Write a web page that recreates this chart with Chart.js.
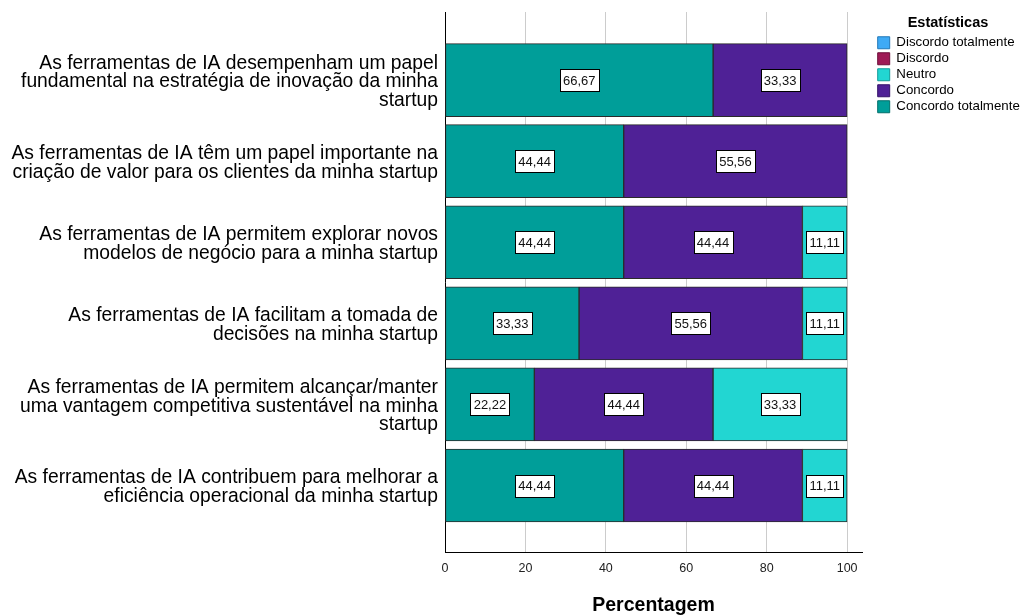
<!DOCTYPE html>
<html>
<head>
<meta charset="utf-8">
<script src="https://cdn.jsdelivr.net/npm/chart.js@4/dist/chart.umd.min.js"></script>
<style>
  html, body { margin: 0; padding: 0; background: #fff; }
  #wrap { width: 1021px; height: 615px; }
</style>
</head>
<body>
<div id="wrap"><canvas id="c" width="1021" height="615"></canvas></div>
<script>
// Survey statements (one bar each, top to bottom)
const statements = [
  ["As ferramentas de IA desempenham um papel", "fundamental na estratégia de inovação da minha", "startup"],
  ["As ferramentas de IA têm um papel importante na", "criação de valor para os clientes da minha startup"],
  ["As ferramentas de IA permitem explorar novos", "modelos de negócio para a minha startup"],
  ["As ferramentas de IA facilitam a tomada de", "decisões na minha startup"],
  ["As ferramentas de IA permitem alcançar/manter", "uma vantagem competitiva sustentável na minha", "startup"],
  ["As ferramentas de IA contribuem para melhorar a", "eficiência operacional da minha startup"]
];

// Percentage of answers per response level
const concordoTotalmente = [66.67, 44.44, 44.44, 33.33, 22.22, 44.44];
const concordo           = [33.33, 55.56, 44.44, 55.56, 44.44, 44.44];
const neutro             = [0, 0, 11.11, 11.11, 33.33, 11.11];
const discordo           = [0, 0, 0, 0, 0, 0];
const discordoTotalmente = [0, 0, 0, 0, 0, 0];

const xTicks = [0, 20, 40, 60, 80, 100];

const FONT = '"Liberation Sans", Arial, Helvetica, sans-serif';

// stacking order left to right: Concordo totalmente, Concordo, Neutro, Discordo, Discordo totalmente
const series = [
  { label: 'Concordo totalmente', values: concordoTotalmente, color: '#009e99', edge: '#006f6b' },
  { label: 'Concordo',            values: concordo,           color: '#4f2196', edge: '#36136b' },
  { label: 'Neutro',              values: neutro,             color: '#22d6d2', edge: '#139c99' },
  { label: 'Discordo',            values: discordo,           color: '#9e1a55', edge: '#6e0f3a' },
  { label: 'Discordo totalmente', values: discordoTotalmente, color: '#3eaaf5', edge: '#2278b8' }
];

const datasets = series.map(s => ({
  label: s.label,
  data: s.values.map((v, i) => ({ x: v > 0 ? v : null, y: i })),
  backgroundColor: s.color,
  borderColor: '#2a2a2a',
  borderWidth: 1,
  borderSkipped: false,
  barThickness: 73
}));

// White boxed value labels centred on each segment
const segmentLabels = {
  id: 'segmentLabels',
  afterDatasetsDraw(chart) {
    const ctx = chart.ctx;
    ctx.save();
    ctx.font = '13px ' + FONT;
    ctx.textAlign = 'center';
    ctx.textBaseline = 'middle';
    chart.data.datasets.forEach((ds, di) => {
      const meta = chart.getDatasetMeta(di);
      if (meta.hidden) return;
      meta.data.forEach((bar, i) => {
        const v = ds.data[i].x;
        if (v == null) return;
        const { x, base, y } = bar.getProps(['x', 'base', 'y'], true);
        const cx = (x + base) / 2;
        const txt = v.toFixed(2).replace('.', ',');
        const w = Math.round(ctx.measureText(txt).width + 6);
        const h = 22;
        const left = Math.round(cx - w / 2) + 0.5;
        const top = Math.round(y - h / 2) + 0.5;
        ctx.fillStyle = '#ffffff';
        ctx.fillRect(left, top, w, h);
        ctx.strokeStyle = '#000000';
        ctx.lineWidth = 1;
        ctx.strokeRect(left, top, w, h);
        ctx.fillStyle = '#111111';
        ctx.fillText(txt, cx, y + 1);
      });
    });
    ctx.restore();
  }
};

const noEdgePadding = s => { s.paddingTop = 0; s.paddingBottom = 0; };

new Chart(document.getElementById('c'), {
  type: 'bar',
  data: { datasets },
  plugins: [segmentLabels],
  options: {
    responsive: false,
    animation: false,
    indexAxis: 'y',
    layout: { padding: { top: 12, right: 0, bottom: 0, left: 0 } },
    scales: {
      x: {
        type: 'linear',
        stacked: true,
        min: 0,
        max: 103.7,
        afterBuildTicks: s => { s.ticks = xTicks.map(v => ({ value: v })); },
        afterFit: s => { s.height = 63; },
        ticks: { color: '#222', padding: 9, font: { family: FONT, size: 12.5 } },
        grid: { color: '#cccccc', lineWidth: 1, drawTicks: false },
        border: { display: true, color: '#000', width: 1 },
        title: {
          display: true,
          text: 'Percentagem',
          color: '#000',
          padding: { top: 0, bottom: -2 },
          font: { family: FONT, size: 19.5, weight: 'bold' }
        }
      },
      y: {
        type: 'linear',
        stacked: true,
        reverse: true,
        offset: false,
        min: -0.84,
        max: 5.82,
        afterBuildTicks: s => { s.ticks = statements.map((_, i) => ({ value: i })); },
        afterFit: s => { s.width = 445; noEdgePadding(s); },
        ticks: {
          color: '#000',
          padding: 7,
          labelOffset: 2,
          font: { family: FONT, size: 19.3, lineHeight: 0.97 },
          callback: v => statements[v]
        },
        grid: { display: false, drawTicks: false, offset: false },
        border: { display: true, color: '#000', width: 1 }
      },
      // thin spacer between the plot and the legend
      gap: {
        type: 'linear',
        position: 'right',
        display: true,
        afterFit: s => { s.width = 13; noEdgePadding(s); },
        ticks: { display: false },
        grid: { display: false, drawTicks: false },
        border: { display: false }
      }
    },
    plugins: {
      tooltip: { enabled: false },
      legend: {
        position: 'right',
        align: 'start',
        reverse: true,
        maxWidth: 146,
        title: {
          display: true,
          text: 'Estatísticas',
          position: 'center',
          color: '#000',
          padding: { top: 4, bottom: 0 },
          font: { family: FONT, size: 14.5, weight: 'bold' }
        },
        labels: {
          boxWidth: 12,
          boxHeight: 12,
          padding: 2.7,
          color: '#000',
          font: { family: FONT, size: 13.3 },
          generateLabels: chart => Chart.defaults.plugins.legend.labels.generateLabels(chart).map(item => {
            const s = series[item.datasetIndex];
            return Object.assign(item, { strokeStyle: s.edge, lineWidth: 1 });
          })
        }
      }
    }
  }
});
</script>
</body>
</html>
